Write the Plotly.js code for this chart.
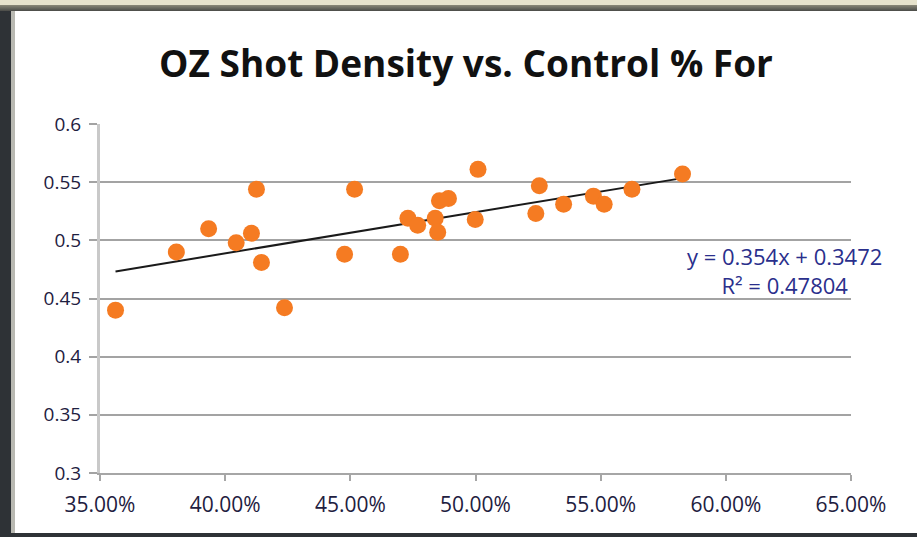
<!DOCTYPE html>
<html>
<head>
<meta charset="utf-8">
<script src="https://cdn.plot.ly/plotly-3.0.1.min.js"></script>
<style>
  html, body { margin: 0; padding: 0; width: 917px; height: 537px; overflow: hidden; background: #2e3236; }
  #topband { position: absolute; left: 0; top: 0; width: 917px; height: 5px; background: #e6e2cc; }
  #topshade { position: absolute; left: 0; top: 5px; width: 917px; height: 6px; background: linear-gradient(#8a8878, #4a4b48); }
  #leftedge { position: absolute; left: 11px; top: 11px; width: 4px; height: 522px; background: #b9b9b2; }
  #paper { position: absolute; left: 15px; top: 11px; width: 902px; height: 522px; background: #ffffff; }
  #chart { position: absolute; left: 0; top: 0; width: 917px; height: 537px; }
</style>
</head>
<body>
<div id="topband"></div>
<div id="topshade"></div>
<div id="leftedge"></div>
<div id="paper"></div>
<div id="chart"></div>
<script>
// Control % For (fraction) and OZ shot density
const controlPctFor = [0.3562, 0.3805, 0.3934, 0.4044, 0.4105, 0.4125, 0.4145, 0.4237, 0.4477, 0.4517,
                       0.4700, 0.4730, 0.4769, 0.4839, 0.4849, 0.4856, 0.4892, 0.4999, 0.5010, 0.5241,
                       0.5255, 0.5352, 0.5471, 0.5514, 0.5625, 0.5827];
const ozShotDensity = [0.440, 0.490, 0.510, 0.498, 0.506, 0.544, 0.481, 0.442, 0.488, 0.544,
                       0.488, 0.519, 0.513, 0.519, 0.507, 0.534, 0.536, 0.518, 0.561, 0.523,
                       0.547, 0.531, 0.538, 0.531, 0.544, 0.557];
// Linear trendline as reported on the chart
const trendSlope = 0.354;
const trendIntercept = 0.3472;
const trendR2 = 0.47804;
const xTickVals = [0.35, 0.40, 0.45, 0.50, 0.55, 0.60, 0.65];
const yTickVals = [0.3, 0.35, 0.4, 0.45, 0.5, 0.55, 0.6];
const chartTitle = 'OZ Shot Density vs. Control % For';

const xMin = Math.min(...controlPctFor);
const xMax = Math.max(...controlPctFor);
const trendX = [xMin, xMax];
const trendY = trendX.map(v => trendSlope * v + trendIntercept);

const fam = '"Open Sans", Lato, sans-serif';

const data = [
  {
    x: trendX, y: trendY, type: 'scatter', mode: 'lines',
    line: { color: '#1a1a1a', width: 2 }, hoverinfo: 'skip', showlegend: false
  },
  {
    x: controlPctFor, y: ozShotDensity, type: 'scatter', mode: 'markers',
    marker: { color: '#f57b22', size: 17, line: { width: 0 } }, showlegend: false
  }
];

const layout = {
  width: 917, height: 537,
  margin: { l: 100, r: 66, t: 124, b: 64, pad: 0 },
  paper_bgcolor: 'rgba(0,0,0,0)',
  plot_bgcolor: 'rgba(0,0,0,0)',
  showlegend: false,
  title: {
    text: '<b>' + chartTitle + '</b>',
    font: { family: fam, size: 37, color: '#111111' },
    xref: 'container', x: 466 / 917, xanchor: 'center',
    yref: 'container', y: 1 - 64 / 537, yanchor: 'middle'
  },
  xaxis: {
    range: [0.35, 0.65], tickvals: xTickVals, tickformat: '.2%',
    showgrid: false, zeroline: false,
    showline: true, linecolor: '#a6a6a6', linewidth: 2,
    ticks: 'outside', ticklen: 6, tickwidth: 2, tickcolor: '#a6a6a6',
    tickfont: { family: fam, size: 21, color: '#1e2040' }, ticklabelstandoff: 6
  },
  yaxis: {
    range: [0.3, 0.6], tickvals: yTickVals, tickformat: '',
    showgrid: true, gridcolor: '#a3a3a3', gridwidth: 2, zeroline: false,
    showline: true, linecolor: '#c9c9c9', linewidth: 3,
    ticks: 'outside', ticklen: 8, tickwidth: 2, tickcolor: '#a3a3a3',
    tickfont: { family: fam, size: 19, color: '#1e2040' }, ticklabelstandoff: 4
  },
  annotations: [
    {
      xref: 'paper', yref: 'paper', x: 0.912, y: 0.58,
      text: 'y = ' + trendSlope + 'x + ' + trendIntercept + '<br>R² = ' + trendR2,
      showarrow: false, align: 'center', xanchor: 'center', yanchor: 'middle',
      font: { family: fam, size: 22, color: '#2a2f8c' }
    }
  ]
};

Plotly.newPlot('chart', data, layout, { displayModeBar: false, staticPlot: true });
</script>
</body>
</html>
